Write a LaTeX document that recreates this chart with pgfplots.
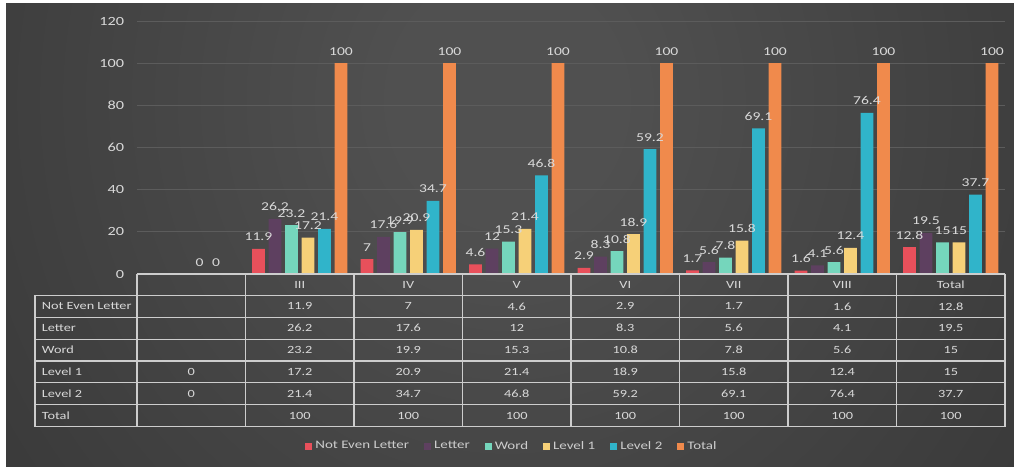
\documentclass[border=0pt]{standalone}
\usepackage{pgfplots}
\pgfplotsset{compat=1.18}
\usepackage{pgfplotstable}
\usepackage{fontspec}
\setmainfont{Carlito}[FakeStretch=1.3]
\definecolor{cNE}{RGB}{232,80,91}
\definecolor{cLE}{RGB}{94,64,96}
\definecolor{cWO}{RGB}{117,214,188}
\definecolor{cLA}{RGB}{246,208,120}
\definecolor{cLB}{RGB}{48,180,202}
\definecolor{cTO}{RGB}{240,138,76}
\definecolor{txt}{RGB}{217,217,217}
\definecolor{legtxt}{RGB}{205,205,205}
\definecolor{bgin}{RGB}{80,80,80}
\definecolor{bgout}{RGB}{36,36,36}
\definecolor{gridc}{RGB}{92,92,92}
\definecolor{tline}{RGB}{205,205,205}
\pgfdeclareradialshading{bgrad}{\pgfpoint{0bp}{0bp}}{color(0bp)=(bgin); color(4bp)=(bgin); color(40bp)=(bgout); color(100bp)=(bgout)}
\pgfplotsset{sqleg/.style={legend image code/.code={\fill[##1] (0pt,-3.5pt) rectangle (7pt,3.5pt);}}}

\pgfplotstableread{
x ne le wo la lb to
0 nan nan nan 0 0 nan
1 11.9 26.2 23.2 17.2 21.4 100
2 7 17.6 19.9 20.9 34.7 100
3 4.6 12 15.3 21.4 46.8 100
4 2.9 8.3 10.8 18.9 59.2 100
5 1.7 5.6 7.8 15.8 69.1 100
6 1.6 4.1 5.6 12.4 76.4 100
7 12.8 19.5 15 15 37.7 100
}\data

\begin{document}
\fontsize{11}{13}\selectfont
\begin{tikzpicture}[x=1pt,y=1pt]
\useasboundingbox (0,0) rectangle (1014,466);
\fill[white] (0,462) rectangle (1014,466);
\fill[white] (0,0) rectangle (6,466);
\begin{scope}
\clip (6,-3) rectangle (1017,462);
\shade[shading=bgrad] (-193,-384) rectangle (1207,1116);
\end{scope}
\begin{axis}[
  at={(137pt,192pt)}, anchor=south west,
  scale only axis, width=868pt, height=253pt,
  xmin=-0.5, xmax=7.5, ymin=0, ymax=120,
  ytick={0,20,...,120}, xtick=\empty,
  ymajorgrids, major grid style={draw=gridc, line width=0.8pt},
  axis line style={draw=none},
  major tick length=0pt,
  tick label style={text=txt, font=\fontsize{12.5}{14}\selectfont},
  yticklabel style={xshift=-9pt},
  /pgf/number format/assume math mode=true,
  ybar=3.8pt, bar width=12.7pt,
  nodes near coords,
  nodes near coords style={text=txt, anchor=south, yshift=4pt, font=\fontsize{12}{14}\selectfont},
  every axis plot/.append style={draw=none},
  legend columns=6,
  legend style={at={(0.432,-0.68)}, anchor=center, draw=none, fill=none,
    text=legtxt, font=\fontsize{11.5}{13}\selectfont,
    /tikz/every even column/.append style={column sep=13pt},
    /tikz/every odd column/.append style={column sep=1pt}},
  clip=false,
]
\addplot[fill=cNE, sqleg] table[x=x,y=ne]{\data};
\addplot[fill=cLE, sqleg] table[x=x,y=le]{\data};
\addplot[fill=cWO, sqleg] table[x=x,y=wo]{\data};
\addplot[fill=cLA, sqleg] table[x=x,y=la]{\data};
\addplot[fill=cLB, sqleg] table[x=x,y=lb]{\data};
\addplot[fill=cTO, sqleg] table[x=x,y=to]{\data};
\legend{Not Even Letter, Letter, Word, Level 1, Level 2, Total}
\end{axis}
% data table below the chart
\begin{scope}[tline, line width=1.1pt]
\draw (137,192) -- (1005,192);
\foreach \y in {170.5,148.67,126.83,105,83.17,61.33,39.5} \draw (35,\y) -- (1005,\y);
\draw (35,170.5) -- (35,39.5);
\foreach \x in {137,245.5,354,462.5,571,679.5,788,896.5,1005} \draw (\x,192) -- (\x,39.5);
\end{scope}
\foreach \v [count=\i] in {III,IV,V,VI,VII,VIII,Total}
  \node[text=txt] at ({191.25+108.5*\i},181.25) {\v};
\foreach \l/\y in {Not Even Letter/159.6, Letter/137.75, Word/115.9, Level 1/94.1, Level 2/72.25, Total/50.4}
  \node[text=txt, anchor=west] at (38,\y) {\l};
\foreach \v [count=\i] in {11.9,7,4.6,2.9,1.7,1.6,12.8}
  \node[text=txt] at ({191.25+108.5*\i},159.6) {\v};
\foreach \v [count=\i] in {26.2,17.6,12,8.3,5.6,4.1,19.5}
  \node[text=txt] at ({191.25+108.5*\i},137.75) {\v};
\foreach \v [count=\i] in {23.2,19.9,15.3,10.8,7.8,5.6,15}
  \node[text=txt] at ({191.25+108.5*\i},115.9) {\v};
\foreach \v [count=\i from 0] in {0,17.2,20.9,21.4,18.9,15.8,12.4,15}
  \node[text=txt] at ({191.25+108.5*\i},94.1) {\v};
\foreach \v [count=\i from 0] in {0,21.4,34.7,46.8,59.2,69.1,76.4,37.7}
  \node[text=txt] at ({191.25+108.5*\i},72.25) {\v};
\foreach \v [count=\i] in {100,100,100,100,100,100,100}
  \node[text=txt] at ({191.25+108.5*\i},50.4) {\v};
\end{tikzpicture}
\end{document}
